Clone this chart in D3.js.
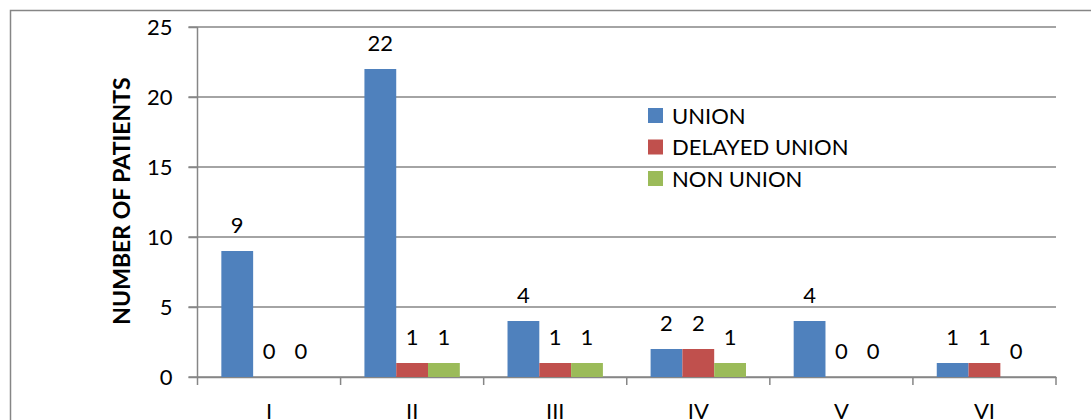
<!DOCTYPE html>
<html>
<head>
<meta charset="utf-8">
<script src="https://d3js.org/d3.v7.min.js"></script>
<style>
  body { margin: 0; background: #fff; }
  text { font-family: Lato, "Open Sans", sans-serif; fill: #000; }
</style>
</head>
<body>
<svg id="chart" width="1091" height="420"></svg>
<script>
// chart data
var categories = ["I", "II", "III", "IV", "V", "VI"];
var seriesNames = ["UNION", "DELAYED UNION", "NON UNION"];
var seriesColors = ["#4F81BD", "#C0504D", "#9BBB59"];
var union = [9, 22, 4, 2, 4, 1];
var delayedUnion = [0, 1, 1, 2, 0, 1];
var nonUnion = [0, 1, 1, 1, 0, 0];
var yTicks = [0, 5, 10, 15, 20, 25];

var series = [union, delayedUnion, nonUnion];

var svg = d3.select("#chart");
var plotLeft = 197.5, plotRight = 1056, plotTop = 27, plotBottom = 377;
var fontSize = "22px";

// outer chart border
svg.append("rect")
  .attr("x", 10.5).attr("y", 10.5)
  .attr("width", 1200).attr("height", 500)
  .attr("fill", "none").attr("stroke", "#868686").attr("stroke-width", 1.5);

var x = d3.scaleBand().domain(categories).range([plotLeft, plotRight]);
var y = d3.scaleLinear().domain([0, 25]).range([plotBottom, plotTop]);

// gridlines
svg.append("g").selectAll("line")
  .data(yTicks)
  .enter().append("line")
  .attr("x1", plotLeft - 9).attr("x2", plotRight)
  .attr("y1", function(d) { return y(d); })
  .attr("y2", function(d) { return y(d); })
  .attr("stroke", "#868686").attr("stroke-width", 1.5);

// y axis
var yAxis = svg.append("g")
  .attr("transform", "translate(" + plotLeft + ",0)")
  .call(d3.axisLeft(y).tickValues(yTicks).tickSize(9).tickPadding(16));
yAxis.select(".domain").attr("stroke", "#868686").attr("stroke-width", 1.5)
  .attr("d", "M0," + plotTop + "V" + plotBottom);
yAxis.selectAll(".tick line").attr("stroke", "#868686").attr("stroke-width", 1.5);
yAxis.selectAll("text").style("font-size", fontSize).style("font-family", "Lato, sans-serif")
  .attr("fill", "#000");

// x axis
var xAxis = svg.append("g")
  .attr("transform", "translate(0," + plotBottom + ")")
  .call(d3.axisBottom(x).tickSize(0).tickPadding(26));
xAxis.select(".domain").attr("stroke", "#868686").attr("stroke-width", 1.5);
xAxis.selectAll("text").style("font-size", fontSize).style("font-family", "Lato, sans-serif")
  .attr("fill", "#000");
// category boundary ticks
svg.append("g").selectAll("line")
  .data(categories.concat(["end"]))
  .enter().append("line")
  .attr("x1", function(d, i) { return plotLeft + i * x.step(); })
  .attr("x2", function(d, i) { return plotLeft + i * x.step(); })
  .attr("y1", plotBottom).attr("y2", plotBottom + 8)
  .attr("stroke", "#868686").attr("stroke-width", 1.5);

// bars
var barW = x.step() / 4.5;
var groupOffset = (x.step() - barW * 3) / 2;

series.forEach(function(vals, s) {
  var g = svg.append("g");
  g.selectAll("rect")
    .data(vals)
    .enter().append("rect")
    .attr("x", function(d, i) { return x(categories[i]) + groupOffset + s * barW; })
    .attr("y", function(d) { return y(d); })
    .attr("width", barW)
    .attr("height", function(d) { return y(0) - y(d); })
    .attr("fill", seriesColors[s]);
  g.selectAll("text")
    .data(vals)
    .enter().append("text")
    .attr("x", function(d, i) { return x(categories[i]) + groupOffset + s * barW + barW / 2; })
    .attr("y", function(d) { return y(d) - 18; })
    .attr("text-anchor", "middle")
    .style("font-size", fontSize)
    .text(function(d) { return d; });
});

// y label
svg.append("text")
  .attr("transform", "translate(130," + ((77 + 325) / 2) + ") rotate(-90)")
  .attr("text-anchor", "middle")
  .style("font-size", "23px")
  .style("font-weight", "bold")
  .text("NUMBER OF PATIENTS");

// legend
var legend = svg.append("g").attr("transform", "translate(648,108)");
seriesNames.forEach(function(name, i) {
  legend.append("rect")
    .attr("x", 0).attr("y", i * 31.5)
    .attr("width", 15).attr("height", 15)
    .attr("fill", seriesColors[i]);
  legend.append("text")
    .attr("x", 24).attr("y", i * 31.5 + 15.5)
    .style("font-size", fontSize)
    .text(name);
});
</script>
</body>
</html>
